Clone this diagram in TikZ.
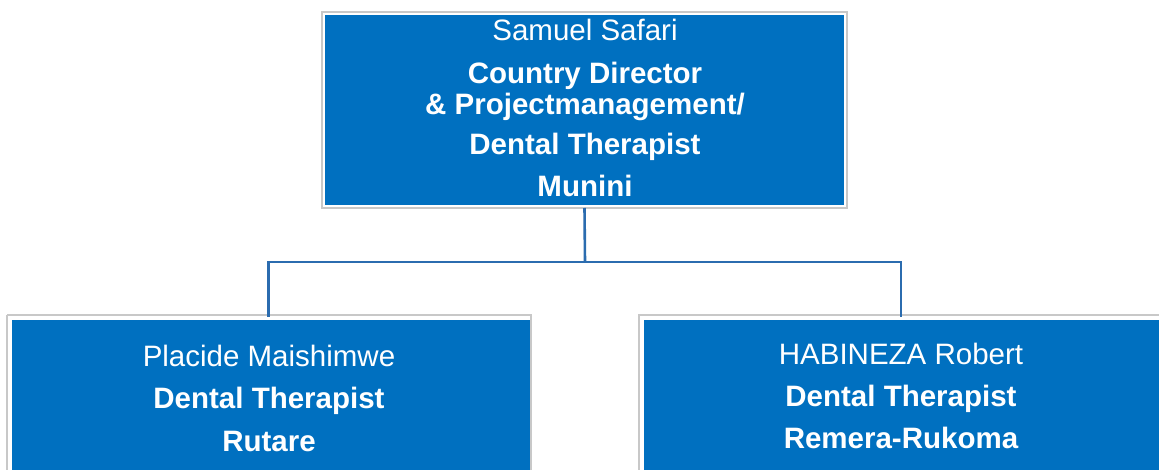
\documentclass[tikz,border=0pt]{standalone}
\usepackage{fontspec}
\setmainfont{Liberation Sans}
\definecolor{boxblue}{HTML}{0070C0}
\definecolor{edgegray}{HTML}{C8C8C8}
\definecolor{linkblue}{HTML}{2B6CAF}
\begin{document}
\begin{tikzpicture}[x=1pt,y=1pt,
  box/.style={fill=boxblue,draw=white,line width=3pt,inner sep=0pt,rectangle},
  frame/.style={draw=edgegray,line width=1.3pt},
  nametext/.style={text=white,anchor=base,inner sep=0pt,font=\fontsize{29.5}{31}\selectfont},
  roletext/.style={text=white,anchor=base,inner sep=0pt,font=\fontsize{29.5}{31}\selectfont\bfseries},
  link/.style={draw=linkblue,line width=2.6pt}]
\useasboundingbox (0,0) rectangle (1159,469);
\clip (0,0) rectangle (1159,469);
% top box
\node[box,minimum width=522pt,minimum height=193pt] (top) at (584.5,359) {};
\draw[frame] (322,457) rectangle (847,261);
\node[nametext] (t1) at (585,428) {Samuel Safari};
\node[roletext] (t2) at (585,385) {Country Director};
\node[roletext] (t3) at (585,354) {\& Projectmanagement/};
\node[roletext] (t4) at (585,314) {Dental Therapist};
\node[roletext] (t5) at (585,272) {Munini};
% left box
\node[box,minimum width=522pt,minimum height=200pt,anchor=north west] (left) at (8.5,152.5) {};
\draw[frame] (7,154) -- (531,154) -- (531,-10);
\draw[frame] (7,154) -- (7,-10);
\node[nametext] (l1) at (269,103) {Placide Maishimwe};
\node[roletext] (l2) at (269,61) {Dental Therapist};
\node[roletext] (l3) at (269,18) {Rutare};
% right box
\node[box,minimum width=540pt,minimum height=200pt,anchor=north west] (right) at (640.5,152.5) {};
\draw[frame] (639,-10) -- (639,154) -- (1170,154);
\node[nametext] (r1) at (901,105) {HABINEZA Robert};
\node[roletext] (r2) at (901,63) {Dental Therapist};
\node[roletext] (r3) at (901,21) {Remera-Rukoma};
% connectors
\coordinate (bus) at (585,207);
\draw[link] (top.south) -- (bus);
\draw[link] (bus) -| ([xshift=-0.5pt]left.north -| 269,0);
\draw[link] (bus) -| (right.north -| 901,0);
\end{tikzpicture}
\end{document}
